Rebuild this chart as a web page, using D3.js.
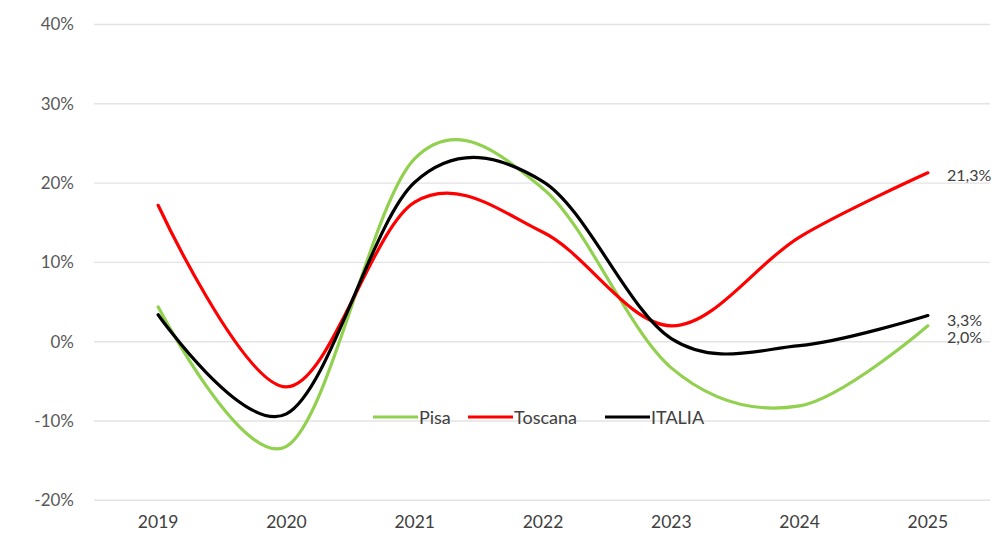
<!DOCTYPE html>
<html><head><meta charset="utf-8">
<script src="https://cdn.jsdelivr.net/npm/d3@7"></script>
<style>
body{margin:0;background:#fff;}
text{font-family:"Lato","Liberation Sans",sans-serif;}
</style></head>
<body><svg id="c" width="1006" height="538"></svg>
<script>
const years = ["2019","2020","2021","2022","2023","2024","2025"];
const pisa    = [4.4, -13.2, 23.1, 19.3, -3.3, -8.1, 2.0];
const toscana = [17.2, -5.7, 17.6, 13.8, 2.0, 13.2, 21.3];
const italia  = [3.4, -9.1, 20.1, 20.2, 0.4, -0.5, 3.3];
const yTicks = [-20,-10,0,10,20,30,40];
const seriesNames = ["Pisa","Toscana","ITALIA"];
const endLabels = ["2,0%","21,3%","3,3%"];

const series = [
  {name: seriesNames[0], values: pisa, color:"#92d050", label: endLabels[0]},
  {name: seriesNames[1], values: toscana, color:"#ff0000", label: endLabels[1]},
  {name: seriesNames[2], values: italia, color:"#000000", label: endLabels[2]}
];

const svg = d3.select("#c");
const x = d3.scaleBand().domain(years).range([94, 992]);
const y = d3.scaleLinear().domain([-20, 40]).range([500.3, 24.5]);
const cx = d => x(d) + x.bandwidth()/2;

// gridlines
svg.append("g").selectAll("line").data(yTicks).join("line")
  .attr("x1", 94).attr("x2", 990)
  .attr("y1", d => y(d)).attr("y2", d => y(d))
  .attr("stroke", "#e3e3e3").attr("stroke-width", 1.4);

// y axis labels
const yAxis = d3.axisLeft(y).tickValues(yTicks).tickFormat(d => d + "%").tickSize(0).tickPadding(0);
const gy = svg.append("g").attr("transform", "translate(74,0)").call(yAxis);
gy.select(".domain").remove();
gy.selectAll("text").attr("fill", "#595959").style("font-size", "17px")
  .style("font-family", '"Lato",sans-serif');

// x axis labels
const xAxis = d3.axisBottom(x).tickSize(0).tickPadding(0);
const gx = svg.append("g").attr("transform", "translate(0,516)").call(xAxis);
gx.select(".domain").remove();
gx.selectAll("text").attr("fill", "#404040").style("font-size", "17.5px")
  .style("font-family", '"Lato",sans-serif');

// lines
const line = d3.line().x((d,i) => cx(years[i])).y(d => y(d)).curve(d3.curveCardinal.tension(0));
series.forEach(s => {
  svg.append("path").datum(s.values).attr("d", line)
    .attr("fill", "none").attr("stroke", s.color).attr("stroke-width", 3.2)
    .attr("stroke-linecap", "round");
});

// end labels
const lblY = [343, 181, 326];
series.forEach((s, i) => {
  svg.append("text").attr("x", 947).attr("y", lblY[i])
    .attr("fill", "#404040").style("font-size", "16px").text(s.label);
});

// legend
const legX = [373, 468, 605];
const legG = svg.append("g");
series.forEach((s, i) => {
  legG.append("line").attr("x1", legX[i]).attr("x2", legX[i] + 45)
    .attr("y1", 417).attr("y2", 417).attr("stroke", s.color).attr("stroke-width", 3.2);
  legG.append("text").attr("x", legX[i] + 46).attr("y", 423.5)
    .attr("fill", "#404040").style("font-size", "18px").text(s.name);
});
</script></body></html>
